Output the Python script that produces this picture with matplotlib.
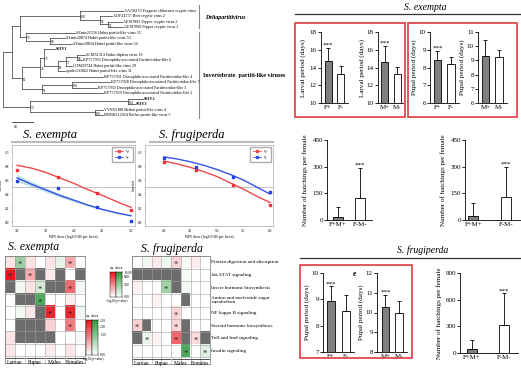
import numpy as np
import matplotlib
matplotlib.use("Agg")
import matplotlib.pyplot as plt
from matplotlib.colors import LinearSegmentedColormap
from matplotlib.patches import Rectangle

plt.rcParams['font.family'] = ['Liberation Serif', 'DejaVu Serif']

W, H = 521, 371
fig = plt.figure(figsize=(W / 100, H / 100), dpi=100)


def box(x0, y0, x1, y1):
    ax = fig.add_axes([x0 / W, 1 - y1 / H, (x1 - x0) / W, (y1 - y0) / H])
    ax.patch.set_alpha(0)
    return ax


# ---------------- data ----------------
leaf_names = ["AAJ06153 Fragaria chiloensis cryptic virus", "ADF24757 Beet cryptic virus 2",
              "AEJ07892 Pepper cryptic virus 2", "AEJ07890 Pepper cryptic virus 1",
              "SZmis21556 Hubei partiti-like virus 55", "SZmis20874 Hubei partiti-like virus 53",
              "SZmis20834 Hubei partiti-like virus 54", "SEIV1",
              "SCM51314 Hubei diptera virus 19", "KP757933 Drosophila-associated Partitiviridae-like 6",
              "QTM29744 Hubei partiti-like virus 29", "spider131862 Hubei partiti-like virus 31",
              "KP757931 Drosophila-associated Partitiviridae-like 4",
              "KP757928 Drosophila-associated Partitiviridae-like 7",
              "KP757930 Drosophila-associated Partitiviridae-like 3",
              "KP757929 Drosophila-associated Partitiviridae-like 2",
              "SEIV2", "SEIV3", "VYSX5188 Beihai partiti-like virus 4", "BHHK112924 Beihai partiti-like virus 5"]
leaf_tips = [123, 112, 122, 123, 75, 65, 72, 55, 85, 82, 72, 65, 103, 110, 97, 103, 143, 135, 103, 103]
bold_leaves = {"SEIV1", "SEIV2", "SEIV3"}
tree = ('', 3, [
    ('', 12, [
        ('', 20, [
            ('100', 80, [0, ('92', 100, [1, ('52', 108, [2, 3])])]),
            ('79', 26, [4, ('99', 50, [5, 6])]),
        ]),
        ('65', 22, [
            ('44', 40, [
                ('73', 44, [7, ('61', 58, [('77', 66, [('98', 77, [8, 9]), 10]), 11])]),
                12]),
            ('91', 42, [('100', 72, [13, 14]), 15]),
        ]),
    ]),
    ('73', 30, [('100', 128, [16, 17]), ('100', 95, [18, 19])]),
])

# life-history bars (mean, sd)
larval_f = [14.7, 13.3]; larval_f_sd = [1.5, 0.9]
larval_m = [14.65, 13.25]; larval_m_sd = [1.8, 0.8]
pupal_f = [8.45, 8.2]; pupal_f_sd = [0.5, 0.4]
pupal_m = [9.3, 9.25]; pupal_m_sd = [1.15, 0.45]
hatch_se1 = [15, 125]; hatch_se1_sd = [60, 170]
hatch_se2 = [25, 130]; hatch_se2_sd = [70, 170]
sf_pupal_f = [8.95, 8.55]; sf_pupal_f_sd = [0.55, 0.6]
sf_pupal_m = [10.3, 10.0]; sf_pupal_m_sd = [0.6, 0.6]
sf_hatch = [45, 315]; sf_hatch_sd = [100, 355]

# survival
se_dose = [3.0, 3.72, 4.41, 5.0]
se_vpos = [0.74, 0.65, 0.42, 0.17]
se_vneg = [0.59, 0.49, 0.21, 0.01]
se_fit_x = [3.0, 3.25, 3.5, 3.75, 4.0, 4.25, 4.5, 4.75, 5.0]
se_fit_pos = [0.81, 0.77, 0.71, 0.63, 0.55, 0.46, 0.38, 0.29, 0.21]
se_fit_neg = [0.63, 0.54, 0.46, 0.38, 0.31, 0.24, 0.18, 0.13, 0.09]
se_fit_neg_lo = [0.58, 0.50, 0.43, 0.355, 0.29, 0.225, 0.17, 0.12, 0.08]
se_fit_neg_hi = [0.68, 0.58, 0.49, 0.405, 0.33, 0.255, 0.19, 0.14, 0.10]
sf_dose = [4.0, 4.6, 5.3, 6.0]
sf_vpos = [0.86, 0.75, 0.53, 0.24]
sf_vneg = [0.92, 0.79, 0.65, 0.43]
sf_fit_x = [4.0, 4.25, 4.5, 4.75, 5.0, 5.25, 5.5, 5.75, 6.0]
sf_fit_pos = [0.87, 0.83, 0.78, 0.72, 0.65, 0.56, 0.47, 0.37, 0.28]
sf_fit_neg = [0.93, 0.90, 0.86, 0.81, 0.75, 0.68, 0.60, 0.50, 0.40]

# KEGG heatmaps: signed -log10(p) (+ up, - down), nan = not detected
pathways = ["Protein digestion and absorption", "Jak STAT signaling", "Insect hormone biosynthesis",
            "Amino and nucleotide sugar\nmetabolism", "NF kappa B signaling",
            "Steroid hormone biosynthesis", "Toll and Imd signaling", "Insulin signaling"]
stages = ["Larvae", "Pupae", "Males", "Females"]
nan = np.nan
se_heat = np.array([
    [0.3, -1.2, 0.3, 0, 0.3, -0.3, 0.9, 0],
    [2.5, nan, 0.9, nan, 0.2, nan, 0, nan],
    [nan, -0.15, 0.3, -0.5, nan, nan, 1.6, -0.15],
    [0, nan, nan, -2.1, 0, 0, 0.2, 0],
    [0, -0.15, 0.25, nan, 2.3, 0, 2.3, -0.2],
    [0, nan, nan, nan, 0.5, 0, 1.4, 0],
    [0.3, nan, nan, nan, nan, 0, 0, -0.1],
    [0.25, 0, 0, 0, 0.2, 0, 0.25, 0]])
se_sig = [(0, 1), (0, 6), (1, 0), (1, 2), (2, 3), (2, 6), (3, 3), (4, 4), (4, 6), (5, 6)]
sf_heat = np.array([
    [0, -0.6, 0.8, -0.8, 1.8, -0.5, 0.8, 0],
    [nan, nan, nan, nan, nan, -0.5, 0, 0],
    [0.6, 0, 0, -4.5, nan, -0.6, 0, 0],
    [0, 0, 0.6, 0, 0, nan, 0, 0],
    [0, 0, 0, 0, 1.8, 0, 0, 0],
    [2.0, nan, 0, 0, 1.8, nan, 0, 0],
    [nan, -1.0, 0.6, 0, 6.5, nan, 1.5, nan],
    [0, 0, 0, 0, 0, -8.5, 0, -1.5]])
sf_sig = [(0, 4), (2, 3), (4, 4), (5, 0), (5, 4), (6, 1), (6, 4), (6, 6), (7, 5), (7, 7)]

# ---------------- overlay ----------------
ov = fig.add_axes([0, 0, 1, 1])
ov.set_xlim(0, W); ov.set_ylim(H, 0); ov.axis('off'); ov.set_zorder(10)

# ---------------- tree ----------------
tr = box(0, 0, 260, 130)
tr.set_xlim(0, 260); tr.set_ylim(130, 0); tr.axis('off')
leaf_y = np.linspace(10.7, 115, len(leaf_names))
lc = '#333333'


def draw(node):
    if isinstance(node, int):
        tr.text(leaf_tips[node] + 1, leaf_y[node], leaf_names[node], fontsize=3.0, va='center',
                fontweight='bold' if leaf_names[node] in bold_leaves else 'normal')
        return leaf_y[node], leaf_tips[node]
    lab, x, kids = node
    ys = []
    for k in kids:
        cy, cx = draw(k)
        tr.plot([x, cx], [cy, cy], color=lc, lw=0.5)
        ys.append(cy)
    tr.plot([x, x], [min(ys), max(ys)], color=lc, lw=0.5)
    y = (min(ys) + max(ys)) / 2
    if lab:
        tr.text(x + 1, y + 1.6, lab, fontsize=2.4, va='center')
    return y, x


draw(tree)
tr.plot([12, 33], [122, 122], color=lc, lw=0.6)
tr.text(14, 127, '0.5', fontsize=2.6, va='center')
tr.plot([199, 199], [5, 28], color='#888888', lw=0.8)
tr.plot([199, 199], [32, 118], color='#888888', lw=0.8)
tr.text(205, 17, 'Deltapartitivirus', fontsize=4.3, style='italic', fontweight='bold', va='center')
tr.text(203, 76, 'Invertebrate  partiti-like viruses', fontsize=4.3, fontweight='bold', va='center')


# ---------------- bar charts ----------------
def bars(rect, labels, vals, sds, ylim, yticks, ylabel, xlim, width, star, pad=2):
    ax = box(*rect)
    x = np.arange(2)
    ax.bar(x, vals, width, color=['#7f7f7f', 'white'], edgecolor='black', linewidth=0.6, zorder=2)
    ax.errorbar(x, vals, yerr=[[0, 0], sds], fmt='none', ecolor='black', elinewidth=0.6,
                capsize=1.6, capthick=0.6, zorder=1)
    ax.set_ylim(ylim); ax.set_xlim(xlim)
    ax.set_yticks(yticks)
    ax.set_xticks(x); ax.set_xticklabels(labels)
    for s in ['top', 'right']:
        ax.spines[s].set_visible(False)
    for s in ['left', 'bottom']:
        ax.spines[s].set_linewidth(0.6)
    ax.tick_params(axis='y', length=2, width=0.6, labelsize=5, pad=1)
    ax.tick_params(axis='x', length=0, labelsize=5, pad=1.5)
    ax.set_ylabel(ylabel, fontsize=5.1, labelpad=pad)
    if star is not None:
        ax.text(star, vals[star] + sds[star], '***', ha='center', va='bottom', fontsize=5)
    return ax


bars((321, 32, 348, 103), ['F+', 'F-'], larval_f, larval_f_sd, (10, 18), [10, 12, 14, 16, 18],
     'Larval period (days)', (-0.55, 1.55), 0.55, 0, pad=3)
bars((378, 32, 403, 103), ['M+', 'M-'], larval_m, larval_m_sd, (10, 18), [10, 12, 14, 16, 18],
     'Larval period (days)', (-0.55, 1.45), 0.55, 0, pad=1.5)
bars((430, 32, 459, 103), ['F+', 'F-'], pupal_f, pupal_f_sd, (6, 10), [6, 7, 8, 9, 10],
     'Pupal period (days)', (-0.55, 1.6), 0.55, 0, pad=1.5)
bars((478, 32, 507, 103), ['M+', 'M-'], pupal_m, pupal_m_sd, (6, 11), [6, 7, 8, 9, 10, 11],
     'Pupal period (days)', (-0.55, 1.6), 0.55, None, pad=1.5)
bars((327, 140, 372, 220), ['F+M+', 'F-M-'], hatch_se1, hatch_se1_sd, (0, 450), [0, 150, 300, 450],
     'Number of hatchings per female', (-0.5, 1.55), 0.45, 1, pad=3)
bars((465, 140, 521, 220), ['F+M+', 'F-M-'], hatch_se2, hatch_se2_sd, (0, 450), [0, 150, 300, 450],
     'Number of hatchings per female', (-0.25, 1.45), 0.3, 1, pad=3)
bars((323, 273, 354, 352), ['F+', 'F-'], sf_pupal_f, sf_pupal_f_sd, (7, 10), [7, 8, 9, 10],
     'Pupal period (days)', (-0.53, 1.53), 0.53, 0, pad=1)
bars((377, 273, 407, 352), ['M+', 'M-'], sf_pupal_m, sf_pupal_m_sd, (8, 12), [8, 9, 10, 11, 12],
     'Pupal period (days)', (-0.63, 1.6), 0.55, 0, pad=1)
bars((460, 273, 518, 353), ['F+M+', 'F-M-'], sf_hatch, sf_hatch_sd, (0, 900), [0, 300, 600, 900],
     'Number of hatchings per female', (-0.375, 1.44), 0.34, 1, pad=2.5)

red_box = '#e0393e'
ov.add_patch(Rectangle((295, 23), 110, 94, fill=False, ec=red_box, lw=1.2))
ov.add_patch(Rectangle((408, 23), 109, 94, fill=False, ec=red_box, lw=1.2))
ov.add_patch(Rectangle((300, 265), 112, 93, fill=False, ec=red_box, lw=1.2))
ov.text(425, 8, 'S. exempta', fontsize=7, style='italic', ha='center', va='center')
ov.plot([295, 520], [14, 14], color='#333333', lw=0.9)
ov.text(423, 250, 'S. frugiperda', fontsize=7, style='italic', ha='center', va='center')
ov.plot([300, 521], [258, 258], color='#333333', lw=0.9)
ov.text(354, 274, 'e', fontsize=5.5, fontweight='bold', ha='center', va='center')


# ---------------- survival ----------------
def survival(rect, xlim, xticks, dose, vpos, vneg, fx, fpos, fneg, band=None):
    ax = box(*rect)
    ax.set_xlim(xlim); ax.set_ylim(-0.057, 1.1)
    ax.axhline(0.5, color='#aaaaaa', lw=0.5)
    if band is not None:
        ax.fill_between(fx, band[0], band[1], color='#bfe3e8', lw=0)
    ax.plot(fx, fpos, color='#f0484a', lw=1.0)
    ax.plot(fx, fneg, color='#3552e8', lw=1.0)
    ax.scatter(dose, vpos, s=3, color='#f0303a', marker='s', zorder=3)
    ax.scatter(dose, vneg, s=3, color='#2a3fe0', marker='s', zorder=3)
    h = [plt.Line2D([], [], color='#f0484a', marker='s', ms=1.5, lw=0.6),
         plt.Line2D([], [], color='#3552e8', marker='s', ms=1.5, lw=0.6)]
    ax.legend(h, ['V+', 'V-'], loc='upper right', fontsize=2.5, frameon=True, fancybox=False,
              edgecolor='#999999', borderpad=0.8, handlelength=2.5, labelspacing=0.6)
    ax.set_xticks(xticks); ax.set_xticklabels(['%.1f' % t for t in xticks])
    ax.set_yticks([0, 0.2, 0.4, 0.6, 0.8, 1.0])
    ax.tick_params(labelsize=2.5, length=1, width=0.3, pad=1, color='#777777')
    for s in ax.spines.values():
        s.set_linewidth(0.4); s.set_color('#999999')
    ax.set_xlabel('NPV dose (log10 OB per larva)', fontsize=2.8, labelpad=1.5)
    ax.set_ylabel('Survival', fontsize=2.5, labelpad=1.5)


survival((12, 145, 135, 226), (2.91, 5.07), [3.0, 3.5, 4.0, 4.5, 5.0], se_dose, se_vpos, se_vneg,
         se_fit_x, se_fit_pos, se_fit_neg, band=(se_fit_neg_lo, se_fit_neg_hi))
survival((145, 145, 273, 226), (3.64, 6.06), [4.0, 4.5, 5.0, 5.5, 6.0], sf_dose, sf_vpos, sf_vneg,
         sf_fit_x, sf_fit_pos, sf_fit_neg)
ov.text(50, 135, 'S. exempta', fontsize=9, style='italic', ha='center', va='center')
ov.plot([12, 135], [142, 142], color='#bbbbbb', lw=1.5)
ov.text(192, 135, 'S. frugiperda', fontsize=9, style='italic', ha='center', va='center')
ov.plot([150, 273], [142, 142], color='#bbbbbb', lw=1.5)

# ---------------- heatmaps ----------------
up_cmap = LinearSegmentedColormap.from_list('up', ['#ffffff', '#e8141c'])
down_cmap = LinearSegmentedColormap.from_list('down', ['#ffffff', '#2e9a3e'])


def heat(rect, vals, sig, vmax, labels=False):
    ax = box(*rect)
    rgb = np.ones(vals.shape + (3,))
    for r in range(vals.shape[0]):
        for c in range(vals.shape[1]):
            v = vals[r, c]
            if np.isnan(v):
                rgb[r, c] = (0.43, 0.43, 0.43)
            elif v >= 0:
                rgb[r, c] = up_cmap(v / vmax)[:3]
            else:
                rgb[r, c] = down_cmap(-v / vmax)[:3]
    ax.imshow(rgb, aspect='auto', interpolation='nearest')
    ax.set_xticks(np.arange(-0.5, 8, 1), minor=True)
    ax.set_yticks(np.arange(-0.5, 8, 1), minor=True)
    ax.grid(which='minor', color='#a0a0a0', lw=0.4)
    ax.set_xticks([]); ax.set_yticks([])
    ax.tick_params(which='minor', length=0)
    for s in ax.spines.values():
        s.set_linewidth(0.5); s.set_color('#777777')
    for r, c in sig:
        ax.text(c, r + 0.2, '*', ha='center', va='center', fontsize=6, color='#222222')
    for i, st in enumerate(stages):
        ax.plot([2 * i - 0.4, 2 * i + 1.4], [7.62, 7.62], color='#333333', lw=0.6, clip_on=False)
        ax.text(2 * i + 0.5, 7.75, st, ha='center', va='top', fontsize=4)
    if labels:
        for r, p in enumerate(pathways):
            ax.text(7.65, r, p, ha='left', va='center', fontsize=3.7, linespacing=0.9)
    return ax


heat((5, 256, 85, 363), se_heat, se_sig, 2.5)
heat((132, 256, 210, 364), sf_heat, sf_sig, 10, labels=True)
ov.text(34, 247, 'S. exempta', fontsize=8.5, style='italic', ha='center', va='center')
ov.text(172, 249, 'S. frugiperda', fontsize=8.5, style='italic', ha='center', va='center')


def cbar(x0, y0, y1, vmax, ticks, labels):
    grad = np.linspace(1, 0, 64)[:, None]
    a1 = box(x0, y0, x0 + 6, y1)
    a1.imshow(grad, cmap=up_cmap, aspect='auto', extent=(0, 1, 0, vmax))
    a1.set_xticks([]); a1.set_yticks([])
    a2 = box(x0 + 6, y0, x0 + 12, y1)
    a2.imshow(grad, cmap=down_cmap, aspect='auto', extent=(0, 1, 0, vmax))
    a2.set_xticks([])
    a2.yaxis.tick_right()
    a2.set_yticks(ticks); a2.set_yticklabels(labels)
    a2.tick_params(labelsize=2.4, length=0.8, width=0.3, pad=0.8)
    for a in (a1, a2):
        for s in a.spines.values():
            s.set_linewidth(0.3)
    ov.text(x0 + 6, y0 - 2, 'up  down', fontsize=2.3, ha='center', va='bottom')
    ov.text(x0 + 7, y1 + 2, '-log10 (p-value)', fontsize=2.3, ha='center', va='top')


cbar(86, 320, 355, 2.5, [0, 1.5, 2.0, 2.5], ['0.00', '1.50', '2.00', '2.50'])
cbar(110, 272, 297, 10, [0, 5, 8, 10], ['0.00', '5.00', '8.00', '10.00'])

fig.savefig('out.png', dpi=100)
